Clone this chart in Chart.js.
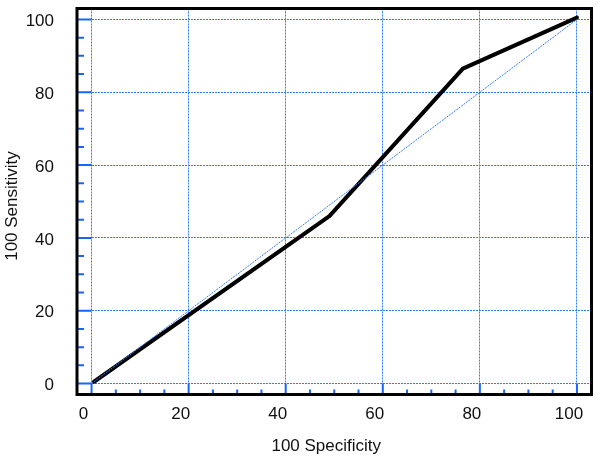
<!DOCTYPE html>
<html>
<head>
<meta charset="utf-8">
<script src="https://cdn.jsdelivr.net/npm/chart.js@4.4.0/dist/chart.umd.min.js"></script>
<style>
html, body { margin: 0; padding: 0; background: #fff; }
#wrap { width: 600px; height: 459px; }
</style>
</head>
<body>
<div id="wrap"><canvas id="Chart1"></canvas></div>
<script>
// ROC curve
const specificity = [0.5, 49, 76.5, 100];
const sensitivity = [0.5, 46, 86.5, 100.5];
// chance diagonal
const diagX = [0, 100];
const diagY = [0, 100];
const majorTicks = [0, 20, 40, 60, 80, 100];
const minorTicks = [5, 10, 15, 25, 30, 35, 45, 50, 55, 65, 70, 75, 85, 90, 95];
const xTitle = '100 Specificity';
const yTitle = '100 Sensitivity';

const gridBlue = '#2f7bff';
const tickBlue = '#1466ff';

const toPoints = (xs, ys) => xs.map((x, i) => ({ x: x, y: ys[i] }));

// black frame, inward blue tick marks and the two axis titles
const framePlugin = {
    id: 'frame',
    afterDraw(chart) {
        const ctx = chart.ctx;
        const a = chart.chartArea;
        const xs = chart.scales.x;
        const ys = chart.scales.y;
        const x0 = xs.getPixelForValue(0);
        const y0 = ys.getPixelForValue(0);
        ctx.save();
        ctx.strokeStyle = tickBlue;
        ctx.lineWidth = 2;
        ctx.beginPath();
        majorTicks.forEach(v => {
            const py = ys.getPixelForValue(v);
            ctx.moveTo(a.left, py); ctx.lineTo(x0, py);
            const px = xs.getPixelForValue(v);
            ctx.moveTo(px, a.bottom); ctx.lineTo(px, y0);
        });
        minorTicks.forEach(v => {
            const py = ys.getPixelForValue(v);
            ctx.moveTo(a.left, py); ctx.lineTo(a.left + 7, py);
            const px = xs.getPixelForValue(v);
            ctx.moveTo(px, a.bottom); ctx.lineTo(px, a.bottom - 5);
        });
        ctx.stroke();
        ctx.strokeStyle = '#000';
        ctx.lineWidth = 3;
        ctx.strokeRect(a.left, a.top, a.right - a.left, a.bottom - a.top);

        // titles sit a little toward the origin, like the tick labels
        ctx.fillStyle = '#111';
        ctx.font = "17px 'Liberation Sans', Arial, sans-serif";
        ctx.textAlign = 'center';
        ctx.textBaseline = 'middle';
        ctx.fillText(xTitle, (a.left + a.right) / 2 - 8, chart.height - 12.5);
        ctx.translate(12.5, (a.top + a.bottom) / 2 + 4.5);
        ctx.rotate(-Math.PI / 2);
        ctx.fillText(yTitle, 0, 0);
        ctx.restore();
    }
};

Chart.defaults.font.family = "'Liberation Sans', Arial, sans-serif";
Chart.defaults.font.size = 17;
Chart.defaults.color = '#111';

new Chart(document.getElementById('Chart1').getContext('2d'), {
    type: 'scatter',
    data: {
        datasets: [{
            data: toPoints(diagX, diagY),
            showLine: true,
            borderColor: gridBlue,
            borderWidth: 1,
            borderDash: [2, 1],
            pointRadius: 0
        }, {
            data: toPoints(specificity, sensitivity),
            showLine: true,
            borderColor: '#000',
            borderWidth: 4,
            borderJoinStyle: 'round',
            borderCapStyle: 'round',
            pointRadius: 0
        }]
    },
    options: {
        responsive: true,
        maintainAspectRatio: false,
        animation: false,
        layout: { padding: { left: 0, top: 8.5, right: 8.5, bottom: 0 } },
        plugins: { legend: { display: false }, tooltip: { enabled: false } },
        scales: {
            x: {
                min: -3,
                max: 103,
                afterBuildTicks: s => { s.ticks = majorTicks.map(v => ({ value: v })); },
                afterFit: s => { s.height = 64.5; s.paddingLeft = 0; s.paddingRight = 0; },
                grid: { color: gridBlue, lineWidth: 1, drawTicks: false },
                border: { display: false, dash: [2, 1] },
                ticks: { padding: 10, labelOffset: -8, maxRotation: 0 }
            },
            y: {
                min: -3,
                max: 103,
                afterBuildTicks: s => { s.ticks = majorTicks.map(v => ({ value: v })); },
                afterFit: s => { s.width = 77; s.paddingTop = 0; s.paddingBottom = 0; },
                grid: { color: gridBlue, lineWidth: 1, drawTicks: false },
                border: { display: false, dash: [2, 1] },
                ticks: { padding: 23, labelOffset: 2 }
            }
        }
    },
    plugins: [framePlugin]
});
</script>
</body>
</html>
